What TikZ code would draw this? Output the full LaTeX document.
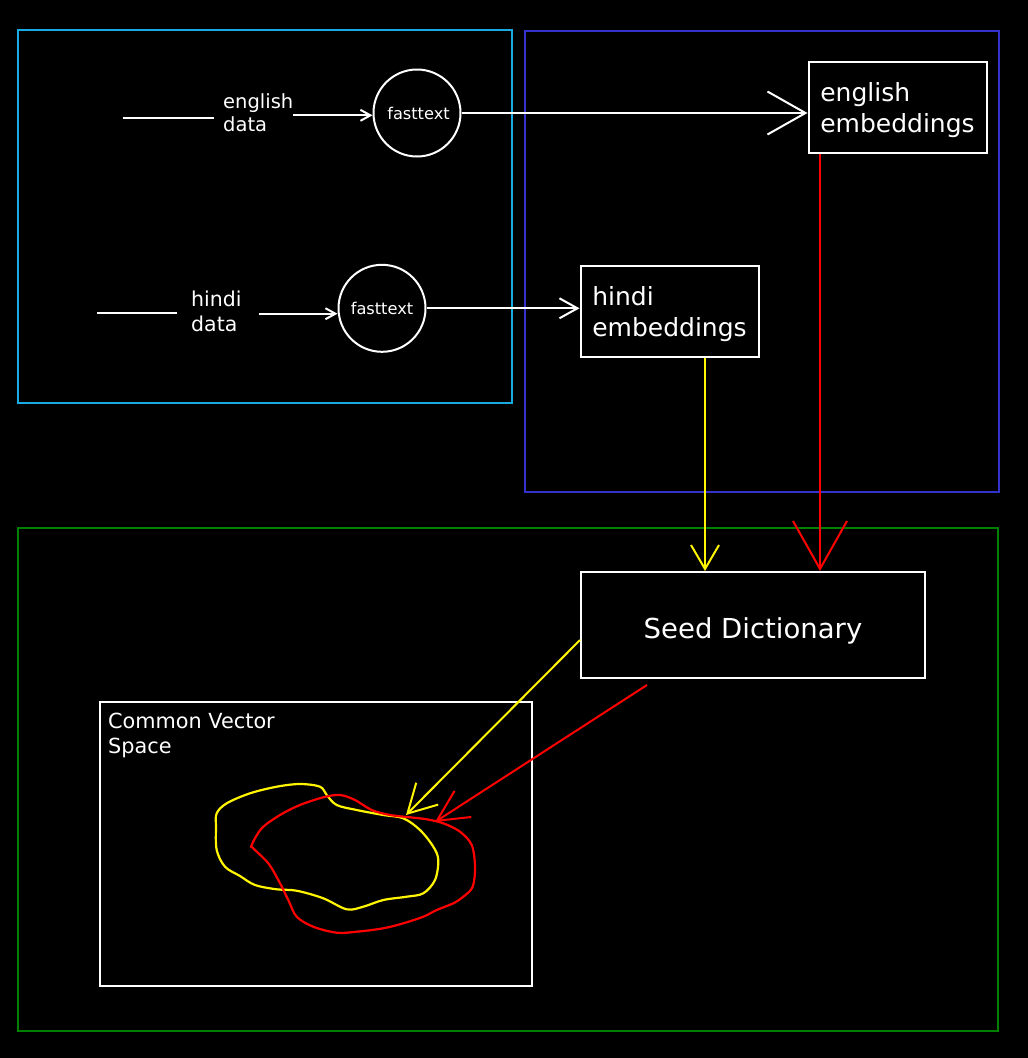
\documentclass[tikz,border=0pt]{standalone}
\usepackage{fontspec}
\setmainfont{DejaVu Sans}
\usetikzlibrary{arrows.meta}
\definecolor{cyanbox}{RGB}{25,170,225}
\definecolor{bluebox}{RGB}{51,51,204}
\definecolor{greenbox}{RGB}{0,128,0}
\definecolor{ylw}{RGB}{255,245,0}
\definecolor{rd}{RGB}{255,0,0}
\newcommand{\twolines}[2]{\begin{tabular}[t]{@{}l@{}}#1\\#2\end{tabular}}
\newcommand{\embtext}[2]{\begin{tabular}[t]{@{}l@{}}\rule{0pt}{27.7pt}#1\\#2\end{tabular}}
\begin{document}
\begin{tikzpicture}[x=1pt,y=-1pt,
  frame/.style={line width=2pt},
  wline/.style={white, line width=2pt},
  yline/.style={ylw, line width=2pt},
  rline/.style={rd, line width=2pt},
  lbl/.style={text=white, inner sep=0pt, anchor=base west},
  smalllbl/.style={lbl, font=\fontsize{19.5}{23.4}\selectfont},
  ftnode/.style={circle, draw=white, line width=2pt, inner sep=0pt, minimum size=87pt, text=white, font=\fontsize{16.2}{19}\selectfont},
  emb/.style={draw=white, line width=2pt, inner sep=0pt, minimum width=178pt, minimum height=91pt, text=white, font=\fontsize{25}{31}\selectfont},
  seedbox/.style={draw=white, line width=2pt, inner sep=0pt, minimum width=344pt, minimum height=106pt, text=white, font=\fontsize{27.5}{33}\selectfont, text height=27pt, text depth=0pt},
  cvsbox/.style={draw=white, line width=2pt, inner sep=0pt, minimum width=432pt, minimum height=284pt}
]
\path[use as bounding box, fill=black] (0,0) rectangle (1028,1058);

% group frames
\draw[cyanbox, frame] (18,30) rectangle (512,403);
\draw[bluebox, frame] (525,31) rectangle (999,492);
\draw[greenbox, frame] (18,528) rectangle (998,1031);

% english row
\coordinate (ein) at (123,118);
\node[smalllbl] (edata) at (223,108.3) {\twolines{english}{data}};
\node[ftnode] (ft1) at (417,113) {\hspace*{3pt}fasttext};
\node[emb] (eng) at (897.5,107.5) {\embtext{english}{embeddings}};

\draw[wline, shorten >=9pt] (ein) -- (ein -| edata.west);
\draw[wline, -{Straight Barb[length=10pt,width=11pt]}] (edata.east) -- (edata.east -| ft1.west);
\draw[wline, -{Straight Barb[length=38pt,width=43pt]}] (ft1.east) -- (ft1.east -| eng.west);

% hindi row
\coordinate (hin) at (97,313);
\node[lbl, font=\fontsize{20.5}{25.7}\selectfont] (hdata) at (191,306) {\twolines{hindi}{data}};
\node[ftnode] (ft2) at (382,308.3) {fasttext};
\node[emb] (hemb) at (669.5,311.5) {\embtext{hindi}{embeddings}};

\draw[wline, shorten >=14pt] (hin) -- (hin -| hdata.west);
\draw[wline, shorten <=17pt, -{Straight Barb[length=10pt,width=11pt]}] (hdata.east) -- (hdata.east -| ft2.west);
\draw[wline, -{Straight Barb[length=18pt,width=20pt]}] (ft2.east) -- (ft2.east -| hemb.west);

% seed dictionary
\node[seedbox] (seed) at (753,625) {Seed Dictionary};

\coordinate (ya) at ([xshift=35.5pt]hemb.south);
\coordinate (ra) at ([xshift=-77.5pt]eng.south);
\draw[yline, -{Straight Barb[length=24pt,width=28pt]}] (ya) -- (ya |- seed.north);
\draw[rline, -{Straight Barb[length=48pt,width=54pt]}] (ra) -- (ra |- seed.north);

% common vector space
\node[cvsbox] (cvs) at (316,844) {};
\node[lbl, font=\fontsize{20.8}{25.5}\selectfont] (cvslbl) at (108,728) {\twolines{Common Vector}{Space}};

% blobs
\draw[yline, line width=2.2pt] plot[smooth cycle, tension=0.55] coordinates {
 (216.7,813.3) (226.7,803.3) (250,793.3) (276.7,786.7) (300,784) (320,786.7)
 (326.7,795) (336.7,805) (356.7,810) (383.3,815) (403.3,818.3) (420,830)
 (433.3,846.7) (438.3,860) (435,880) (423.3,893.3) (406.7,896.7) (383.3,900)
 (363.3,906.7) (346.7,909.3) (323.3,898.3) (296.7,890.7) (276.7,889.3) (255,885)
 (240,876) (225,866.7) (216.7,850) (216,826.7)};
\draw[rline, line width=2.2pt] plot[smooth cycle, tension=0.55] coordinates {
 (251.7,845) (261.7,828.3) (280,815) (300,805) (323.3,797.3) (340,795)
 (355,800) (371.7,810) (390,815) (410,817.3) (426.7,819.3) (443.3,823.3)
 (460,831.7) (471.7,845) (475,866.7) (472.7,886.7) (463.3,896.7) (453.3,903.3)
 (436.7,910) (423.3,916.7) (403.3,923.3) (383.3,928.3) (356.7,931.7) (336.7,932.7)
 (313.3,926.7) (296.7,916.7) (288.3,900) (278.3,880) (268.3,863.3) (253.3,848.3)};

% arrows into the common space
\coordinate (ytip) at (406,815);
\coordinate (rtip) at (435,822);
\coordinate (ys) at ([yshift=-15pt]seed.west);
\coordinate (rs) at ([xshift=-106pt,yshift=-6pt]seed.south);
\draw[yline, -{Straight Barb[length=28pt,width=31pt]}] (ys) -- (ytip);
\draw[rline, -{Straight Barb[length=31pt,width=31pt]}] (rs) -- (rtip);
\end{tikzpicture}
\end{document}
